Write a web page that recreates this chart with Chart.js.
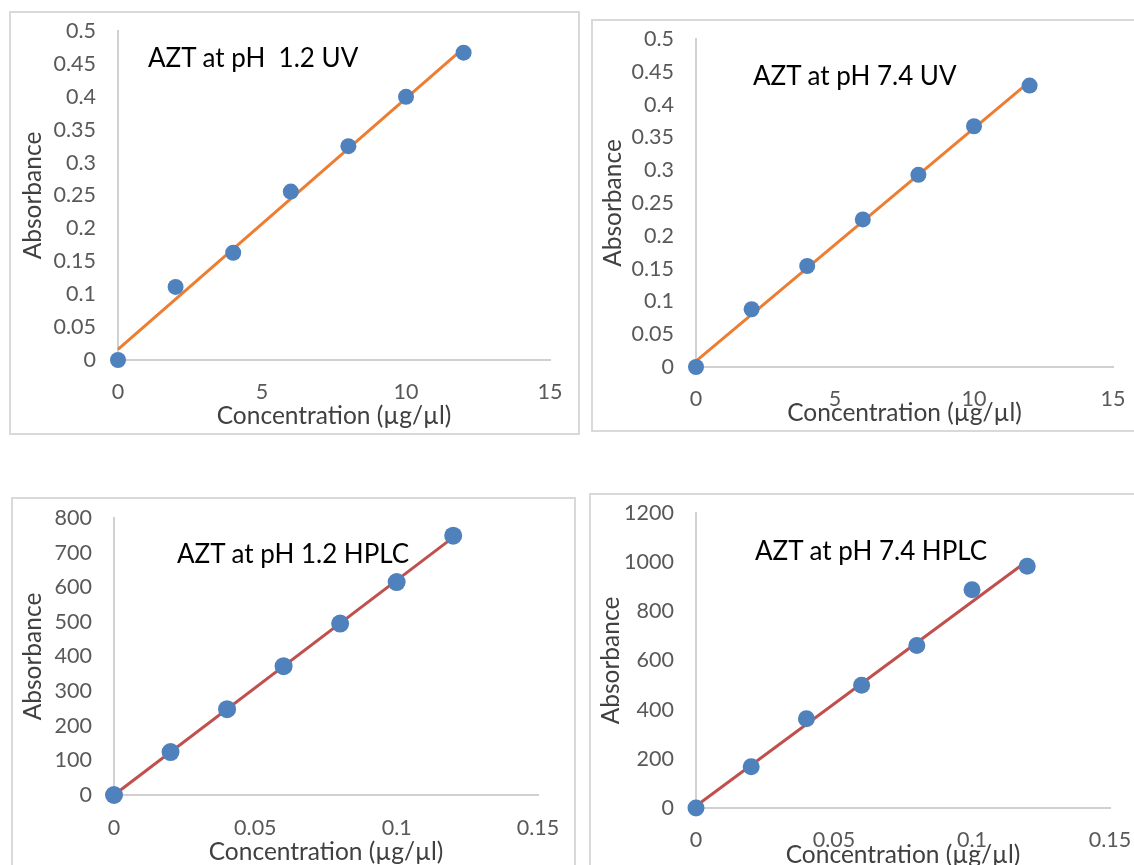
<!DOCTYPE html>
<html>
<head>
<meta charset="utf-8">
<script src="https://cdn.jsdelivr.net/npm/chart.js@4/dist/chart.umd.min.js"></script>
<style>
  html, body { margin:0; padding:0; width:1134px; height:865px; overflow:hidden; background:#fff; }
  .box { position:absolute; border:2px solid #d9d9d9; box-sizing:border-box; }
  canvas { position:absolute; }
  .ttl { position:absolute; font-family:Lato, "Open Sans", sans-serif; font-size:26px; line-height:26px; color:#000; white-space:pre; }
</style>
</head>
<body>
<script>
// ---- data ----
const uvConc = [0, 2, 4, 6, 8, 10, 12];
const uvAbsPh12 = [0, 0.111, 0.163, 0.256, 0.325, 0.400, 0.467];
const uvAbsPh74 = [0, 0.088, 0.154, 0.225, 0.293, 0.367, 0.429];
const hplcConc = [0, 0.02, 0.04, 0.06, 0.08, 0.10, 0.12];
const hplcAbsPh12 = [0, 124, 248, 372, 495, 615, 749];
const hplcAbsPh74 = [0, 168, 363, 499, 661, 888, 983];

// trendline end points (x at start/end and y at start/end)
const uvTrendX = [0, 12];
const trendUvPh12 = [0.016, 0.474];
const trendUvPh74 = [0.009, 0.435];
const hplcTrendX = [0, 0.12];
const trendHplcPh12 = [0, 744];
const trendHplcPh74 = [8, 1005];

// tick values & labels
const uvXTicks = [0, 5, 10, 15];
const uvXLabels = ['0', '5', '10', '15'];
const uvYTicks = [0, 0.05, 0.1, 0.15, 0.2, 0.25, 0.3, 0.35, 0.4, 0.45, 0.5];
const uvYLabels = ['0', '0.05', '0.1', '0.15', '0.2', '0.25', '0.3', '0.35', '0.4', '0.45', '0.5'];
const hplcXTicks = [0, 0.05, 0.1, 0.15];
const hplcXLabels = ['0', '0.05', '0.1', '0.15'];
const hplc12YTicks = [0, 100, 200, 300, 400, 500, 600, 700, 800];
const hplc12YLabels = ['0', '100', '200', '300', '400', '500', '600', '700', '800'];
const hplc74YTicks = [0, 200, 400, 600, 800, 1000, 1200];
const hplc74YLabels = ['0', '200', '400', '600', '800', '1000', '1200'];

const titles = ['AZT at pH  1.2 UV', 'AZT at pH 7.4 UV', 'AZT at pH 1.2 HPLC', 'AZT at pH 7.4 HPLC'];
const xTitle = 'Concentration (µg/µl)';
const yTitle = 'Absorbance';

// ---- layout (page pixel coordinates) ----
const FONT = 'Lato, "Open Sans", sans-serif';
const panels = [
  { box:{x:9, y:11, w:571, h:424}, area:{l:118, t:31, r:550, b:360}, xTickCY:392, xTitleCY:416, yTitleCX:33,
    title:{x:148, cy:57}, x:uvConc, y:uvAbsPh12, tx:uvTrendX, ty:trendUvPh12, line:'#ED7D31', r:8,
    xt:uvXTicks, xl:uvXLabels, yt:uvYTicks, yl:uvYLabels },
  { box:{x:591, y:19, w:560, h:413}, area:{l:696, t:39, r:1113, b:367}, xTickCY:399, xTitleCY:413, yTitleCX:613,
    title:{x:753, cy:75}, x:uvConc, y:uvAbsPh74, tx:uvTrendX, ty:trendUvPh74, line:'#ED7D31', r:8,
    xt:uvXTicks, xl:uvXLabels, yt:uvYTicks, yl:uvYLabels },
  { box:{x:11, y:497, w:565, h:390}, area:{l:114, t:518, r:538, b:795}, xTickCY:828, xTitleCY:852, yTitleCX:33,
    title:{x:177, cy:553}, x:hplcConc, y:hplcAbsPh12, tx:hplcTrendX, ty:trendHplcPh12, line:'#C0504D', r:9,
    xt:hplcXTicks, xl:hplcXLabels, yt:hplc12YTicks, yl:hplc12YLabels },
  { box:{x:589, y:493, w:560, h:390}, area:{l:696, t:513, r:1110, b:808}, xTickCY:840, xTitleCY:855, yTitleCX:611,
    title:{x:755, cy:550}, x:hplcConc, y:hplcAbsPh74, tx:hplcTrendX, ty:trendHplcPh74, line:'#C0504D', r:8.5,
    xt:hplcXTicks, xl:hplcXLabels, yt:hplc74YTicks, yl:hplc74YLabels },
];

function zeroPad(s) { s.paddingTop = 0; s.paddingBottom = 0; s.paddingLeft = 0; s.paddingRight = 0; }

function build(p, i) {
  const b = p.box, a = p.area;
  const div = document.createElement('div');
  div.className = 'box';
  Object.assign(div.style, {left:b.x+'px', top:b.y+'px', width:b.w+'px', height:b.h+'px'});
  document.body.appendChild(div);

  const cv = document.createElement('canvas');
  cv.width = b.w; cv.height = b.h;
  Object.assign(cv.style, {left:b.x+'px', top:b.y+'px', width:b.w+'px', height:b.h+'px'});
  document.body.appendChild(cv);

  const t = document.createElement('div');
  t.className = 'ttl';
  t.textContent = titles[i];
  Object.assign(t.style, {left:p.title.x+'px', top:(p.title.cy-13)+'px'});
  document.body.appendChild(t);

  const tickFont = {family: FONT, size: 21.5, lineHeight: 1};
  const titleFont = {family: FONT, size: 24.5, lineHeight: 1};
  const yWidth = a.l - b.x;
  const xHeight = b.y + b.h - a.b;
  const xTickPad = (p.xTickCY - a.b) - 10.75;
  const xTitlePadBottom = (b.y + b.h) - p.xTitleCY - 12.25;
  const yTitlePadTop = (p.yTitleCX - b.x) - 12.25;

  new Chart(cv, {
    type: 'scatter',
    data: {
      datasets: [
        { data: p.x.map((v, k) => ({x: v, y: p.y[k]})), showLine:false, pointRadius:p.r, pointHoverRadius:p.r,
          pointBackgroundColor:'#4F81BD', pointBorderColor:'#4F81BD', pointBorderWidth:0, clip:false },
        { data: p.tx.map((v, k) => ({x: v, y: p.ty[k]})), showLine:true, pointRadius:0, borderColor:p.line,
          borderWidth:3, fill:false, clip:false }
      ]
    },
    options: {
      responsive:false, animation:false, devicePixelRatio:1,
      layout: { padding: { top: a.t - b.y, right: b.x + b.w - a.r, left: 0, bottom: 0 } },
      plugins: { legend:{display:false}, tooltip:{enabled:false} },
      scales: {
        x: {
          type:'linear', min:p.xt[0], max:p.xt[p.xt.length-1],
          grid:{display:false, drawTicks:false},
          border:{display:true, color:'#d0d0d0', width:2},
          afterBuildTicks: s => { s.ticks = p.xt.map(v => ({value:v})); },
          afterFit: s => { s.height = xHeight; zeroPad(s); },
          ticks:{ autoSkip:false, maxRotation:0, padding:xTickPad, color:'#595959', font:tickFont,
                  callback:(v, k) => p.xl[k] },
          title:{ display:true, text:xTitle, color:'#404040', font:titleFont, padding:{top:0, bottom:xTitlePadBottom} }
        },
        y: {
          type:'linear', min:p.yt[0], max:p.yt[p.yt.length-1],
          grid:{display:false, drawTicks:false},
          border:{display:true, color:'#d0d0d0', width:2},
          afterBuildTicks: s => { s.ticks = p.yt.map(v => ({value:v})); },
          afterFit: s => { s.width = yWidth; zeroPad(s); },
          ticks:{ autoSkip:false, padding:22, color:'#595959', font:tickFont,
                  callback:(v, k) => p.yl[k] },
          title:{ display:true, text:yTitle, color:'#404040', font:titleFont, padding:{top:yTitlePadTop, bottom:0} }
        }
      }
    }
  });
}

function go() { panels.forEach(build); }
if (document.fonts && document.fonts.load) {
  Promise.all([document.fonts.load('21px Lato'), document.fonts.load('24px Lato')]).then(go, go);
} else { go(); }
</script>
</body>
</html>
